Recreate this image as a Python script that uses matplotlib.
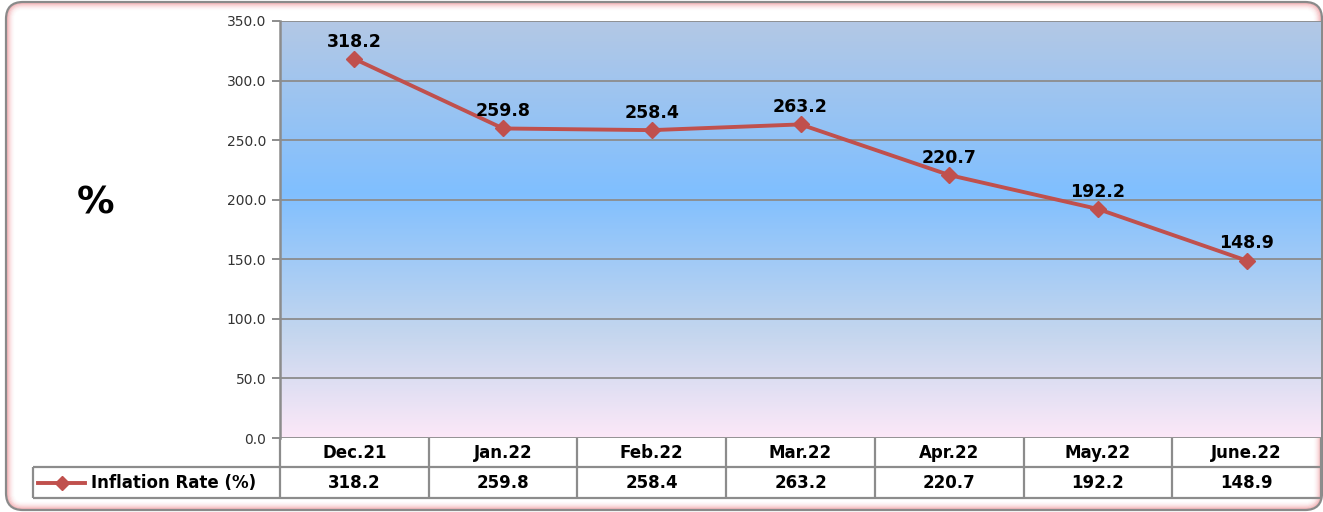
import numpy as np
import matplotlib.pyplot as plt
from matplotlib.colors import LinearSegmentedColormap
from matplotlib.patches import FancyBboxPatch

# data
months = ['Dec.21', 'Jan.22', 'Feb.22', 'Mar.22', 'Apr.22', 'May.22', 'June.22']
inflation = [318.2, 259.8, 258.4, 263.2, 220.7, 192.2, 148.9]
series_name = 'Inflation Rate (%)'
yticks = [0, 50, 100, 150, 200, 250, 300, 350]

W, H = 1323, 512
red = '#c0504d'
grid_gray = '#8c8c8c'

fig = plt.figure(figsize=(W / 100, H / 100), dpi=100)

def box(x0, y0, x1, y1):
    # pixel box (top-left origin) -> figure fraction
    return [x0 / W, 1 - y1 / H, (x1 - x0) / W, (y1 - y0) / H]

# frame with pink inner glow
bg = fig.add_axes([0, 0, 1, 1], zorder=-1)
bg.set_xlim(0, W)
bg.set_ylim(H, 0)
bg.axis('off')
fx, fy, fw, fh = 6, 2, 1316, 508
for i in range(8):
    a = (1 - i / 8) ** 2 * 0.35
    bg.add_patch(FancyBboxPatch((fx + 1 + i, fy + 1 + i), fw - 2 - 2 * i, fh - 2 - 2 * i,
                                boxstyle='round,pad=0,rounding_size=%d' % max(16 - i, 4),
                                fc='none', ec=(0.9, 0.35, 0.38, a), lw=1.1))
bg.add_patch(FancyBboxPatch((fx, fy), fw, fh,
                            boxstyle='round,pad=0,rounding_size=17',
                            fc='none', ec='#8a8a8a', lw=1.6))

# main plot
ax = fig.add_axes(box(280, 21, 1321, 438))
x = np.arange(len(months))
cmap = LinearSegmentedColormap.from_list('bgfill', [
    (0.0, '#b3c8e5'), (0.41, '#80bfff'), (0.75, '#c4d6ee'), (1.0, '#fce8f8')])
grad = np.linspace(0, 1, 256).reshape(-1, 1)
ax.imshow(grad, cmap=cmap, aspect='auto', origin='upper',
          extent=(-0.5, len(months) - 0.5, 0, 350), zorder=0)
ax.set_xlim(-0.5, len(months) - 0.5)
ax.set_ylim(0, 350)
ax.set_yticks(yticks)
ax.set_yticklabels(['%.1f' % v for v in yticks], fontsize=10, color='#333333')
ax.set_xticks([])
ax.tick_params(axis='y', length=6, width=1.4, color=grid_gray, pad=4)
ax.grid(axis='y', color=grid_gray, lw=1.3, zorder=1)
ax.set_axisbelow(False)
for s in ['top', 'right', 'bottom']:
    ax.spines[s].set_visible(False)
ax.spines['left'].set_color(grid_gray)
ax.spines['left'].set_linewidth(1.8)

ax.plot(x, inflation, color=red, lw=2.8, marker='D', ms=8, zorder=3, clip_on=False)
for xi, v in zip(x, inflation):
    ax.annotate('%.1f' % v, (xi, v), xytext=(0, 6), textcoords='offset points',
                ha='center', va='bottom', fontsize=12.5, fontweight='bold', color='black')

fig.text(96 / W, 1 - 204 / H, '%', fontsize=27, fontweight='bold', ha='center', va='center')

# data table under the plot
unit = (1321 - 280) / len(months)
left = -0.5 - (280 - 33) / unit
tab = fig.add_axes(box(33, 438, 1321, 498))
tab.set_xlim(left, len(months) - 0.5)
tab.set_ylim(0, 60)
tab.axis('off')
kw = dict(color=grid_gray, lw=1.6, clip_on=False)
tab.hlines(31, left, len(months) - 0.5, **kw)
tab.hlines(0, left, len(months) - 0.5, **kw)
tab.vlines(left, 0, 31, **kw)
tab.vlines(np.arange(len(months) + 1) - 0.5, 0, 60, **kw)
for xi, m, v in zip(x, months, inflation):
    tab.text(xi, 45.5, m, ha='center', va='center', fontsize=12, fontweight='bold')
    tab.text(xi, 15.5, '%.1f' % v, ha='center', va='center', fontsize=12, fontweight='bold')
sx = left + np.array([5, 29, 52]) / unit
tab.plot(sx, [15.5] * 3, color=red, lw=2.8, clip_on=False)
tab.plot(sx[1], 15.5, marker='D', ms=7, color=red, clip_on=False)
tab.text(left + 58 / unit, 15.5, series_name, ha='left', va='center',
         fontsize=12, fontweight='bold')

fig.savefig('out.png', dpi=100)
